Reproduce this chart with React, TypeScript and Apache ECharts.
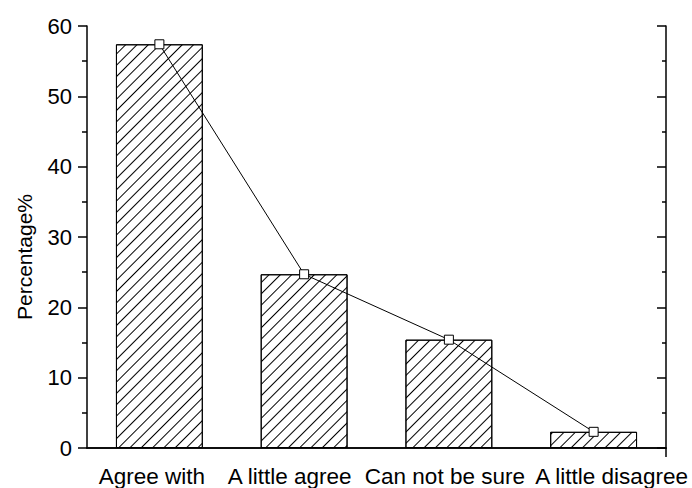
import React, { useEffect, useRef } from "react";
import * as echarts from "echarts";

const categories = ["Agree with", "A little agree", "Can not be sure", "A little disagree"];
const barValues = [57.4, 24.7, 15.4, 2.3];
const lineValues = [57.4, 24.7, 15.4, 2.3];
const yMin = 0;
const yMax = 60;
const yInterval = 10;

const FONT = 'Arial, "Liberation Sans", sans-serif';
const CAT_FONT = 22.5;
// horizontal nudges of the category labels (left / right padding)
const labelPads = [
  [0, 15, 0, 0],
  [0, 29, 0, 0],
  [0, 8, 0, 0],
  [0, 0, 0, 36],
];

export default function App() {
  const ref = useRef<HTMLDivElement>(null);
  useEffect(() => {
    if (!ref.current) return;
    const chart = echarts.init(ref.current, null, { renderer: "svg" });
    const rich: Record<string, any> = {};
    labelPads.forEach((p, i) => {
      rich["r" + i] = { fontSize: CAT_FONT, fontFamily: FONT, color: "#000", padding: p };
    });
    chart.setOption({
      animation: false,
      backgroundColor: "#fff",
      grid: { left: 87, right: 26, top: 26, bottom: 40, containLabel: false },
      xAxis: [
        {
          type: "category",
          data: categories,
          position: "bottom",
          axisLine: { show: true, lineStyle: { color: "#000", width: 1.5 } },
          axisTick: { show: false },
          axisLabel: {
            color: "#000",
            fontSize: CAT_FONT,
            fontFamily: FONT,
            margin: 17,
            interval: 0,
            formatter: (v: string, i: number) => `{r${i}|${v}}`,
            rich,
          },
          splitLine: { show: false },
        },
        {
          type: "category",
          data: categories,
          position: "top",
          axisLine: { show: true, lineStyle: { color: "#000", width: 1.5 } },
          axisTick: { show: false },
          axisLabel: { show: false },
          splitLine: { show: false },
        },
      ],
      yAxis: [
        {
          type: "value",
          min: yMin,
          max: yMax,
          interval: yInterval,
          position: "left",
          name: "Percentage%",
          nameLocation: "middle",
          nameGap: 52,
          nameTextStyle: { color: "#000", fontSize: 21, fontFamily: FONT, padding: [0, 40, 0, 0] },
          axisLine: { show: true, lineStyle: { color: "#000", width: 1.5 } },
          axisTick: { show: true, inside: false, length: 9, lineStyle: { color: "#000", width: 1.5 } },
          minorTick: { show: true, splitNumber: 2, length: 5, lineStyle: { color: "#000", width: 1.5 } },
          axisLabel: { color: "#000", fontSize: 22, fontFamily: FONT, margin: 15 },
          splitLine: { show: false },
        },
        {
          type: "value",
          min: yMin,
          max: yMax,
          interval: yInterval,
          position: "right",
          axisLine: { show: true, lineStyle: { color: "#000", width: 1.5 } },
          axisTick: { show: true, inside: true, length: 9, lineStyle: { color: "#000", width: 1.5 } },
          minorTick: { show: true, splitNumber: 2, length: 4, lineStyle: { color: "#000", width: 1.5 } },
          axisLabel: { show: false },
          splitLine: { show: false },
        },
      ],
      graphic: [
        {
          type: "line",
          shape: { x1: 666, y1: 448, x2: 666, y2: 457 },
          style: { stroke: "#000", lineWidth: 1.5 },
          z: 10,
        },
      ],
      series: [
        {
          type: "bar",
          data: barValues,
          barWidth: "60%",
          itemStyle: {
            color: "#fff",
            borderColor: "#000",
            borderWidth: 1,
            decal: {
              symbol: "rect",
              symbolSize: 1,
              color: "#000",
              dashArrayX: [1, 0],
              dashArrayY: [1, 6.6],
              rotation: -Math.PI / 4,
            },
          },
          z: 2,
        },
        {
          type: "line",
          data: lineValues,
          symbol: "rect",
          symbolSize: 9,
          showSymbol: true,
          lineStyle: { color: "#000", width: 1 },
          itemStyle: { color: "#fff", borderColor: "#000", borderWidth: 1 },
          z: 5,
        },
      ],
    });
    return () => chart.dispose();
  }, []);
  return <div ref={ref} style={{ width: 692, height: 488, position: "absolute", left: 0, top: 0 }} />;
}
